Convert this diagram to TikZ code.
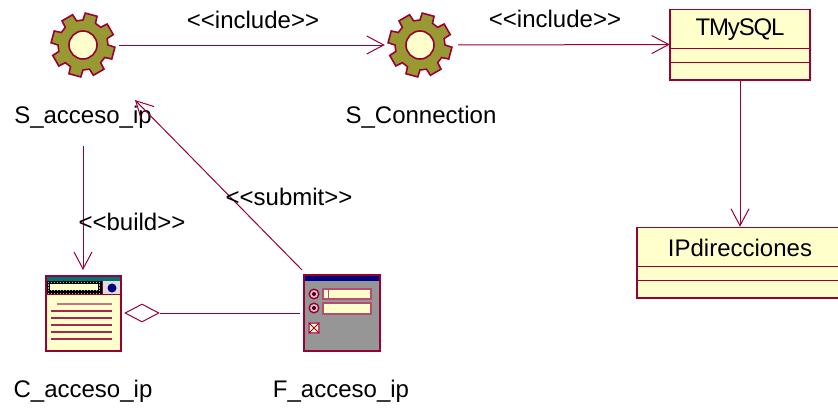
\documentclass[tikz,border=0pt]{standalone}
\usepackage{fontspec}
\setmainfont[Ligatures=NoCommon]{Liberation Sans}
\usetikzlibrary{arrows.meta,shapes.geometric}
\definecolor{rose}{HTML}{990033}
\definecolor{cream}{HTML}{FFFFCC}
\definecolor{olive}{HTML}{999933}
\definecolor{tealbar}{HTML}{007575}
\definecolor{navybar}{HTML}{000080}
\definecolor{formgrey}{HTML}{969696}
\tikzset{
  every node/.style={font=\fontsize{24}{26}\selectfont,text=black,inner sep=0pt},
  link/.style={draw=rose,line width=1pt},
  dep/.style={link,-{Straight Barb[length=17pt,width=18pt,line width=1pt]}},
  box/.style={draw=none,fill=cream,inner sep=0pt,minimum width=#1},
  anchorbox/.style={inner sep=0pt,minimum width=#1,minimum height=#1},
  rl/.style={draw=rose,line width=1pt},
  rb/.style={draw=rose,line width=1.7pt},
  gearline/.style={draw=rose,line width=1.6pt,line join=miter},
  rowline/.style={draw=rose!85!white,line width=1.2pt},
  fieldbox/.style={draw=rose!70!white,fill=cream,line width=1.4pt}
}
\newcommand{\gearat}[2]{%
  \begin{scope}[shift={(#1,#2)}]
    \draw[gearline,fill=olive] (15-15:25)
      \foreach \k in {0,...,7}{
        -- ({\k*45+15-15}:25) -- ({\k*45+15-11}:32) -- ({\k*45+15+11}:32) -- ({\k*45+15+15}:25)
      } -- cycle;
    \draw[gearline,fill=cream] (0,0) circle (14);
  \end{scope}}
\begin{document}
\begin{tikzpicture}[x=1pt,y=-1pt]
\useasboundingbox (0,0) rectangle (838,408);

% anchor nodes of the icons
\node[anchorbox=72] (sa) at (83,45) {};
\node[anchorbox=70] (sc) at (420,45) {};
\node[anchorbox=76] (ca) at (83.5,313.5) {};
\node[anchorbox=76] (fa) at (342,313) {};

% gears
\gearat{83}{45}
\gearat{420}{45}

% labels
\node (lsa) at (83,117) {S\_acceso\_ip};
\node (lsc) at (421,117) {S\_Connection};
\node (lca) at (83,391) {C\_acceso\_ip};
\node (lfa) at (341,391) {F\_acceso\_ip};

% classes
\node[box=140,minimum height=71] (tm) at (740,44.5) {};
\draw[rl] (670,9) -- (810,9);
\draw[rb] (670,9) -- (670,80) -- (810,80) -- (810,9);
\draw[rl] (670,48) -- (810,48) (670,62) -- (810,62);
\node (ltm) at (740,30) {\addfontfeature{LetterSpace=-5}TMySQL};

\node[box=201,minimum height=71] (ip) at (737.5,262.5) {};
\draw[rl] (637,227) -- (838,227);
\draw[rb] (637,227) -- (637,298) -- (838,298);
\draw[rl] (637,266) -- (838,266) (637,280) -- (838,280);
\node (lip) at (740,247.5) {IPdirecciones};

% client page icon
\fill[cream] (46,276) rectangle (121,351);
\fill[tealbar] (47,277) rectangle (120,281);
\fill[black] (47,281) rectangle (102,294);
\foreach \i in {0,...,18}{
  \foreach \j in {0,...,4}{
    \fill[white!70!black] ({47.5+\i*3},{281.5+\j*2.8}) rectangle ++(1.5,1.4);
  }
}
\fill[cream] (50,284) rectangle (98,290);
\fill[white!87!black] (102,281) rectangle (120,294);
\fill[navybar] (112,288) circle (4.5);
\draw[rb] (46,276) rectangle (121,351);
\draw[rb,line width=1pt] (102,281) -- (102,294) (47,294) -- (120,294);
\draw[rowline,rose!55!white] (57,304) -- (112,304);
\foreach \yy in {311,318,325,332,339}{
  \draw[rowline] (51,\yy) -- (112,\yy);
}

% form icon
\fill[formgrey] (304,275) rectangle (380,351);
\fill[navybar] (304,275) rectangle (380,281);
\draw[rb] (304,275) rectangle (380,351);
\draw[fieldbox] (323,289) rectangle (371,299);
\draw[rose!70!white,line width=1pt] (328,289) -- (328,299);
\draw[fieldbox] (323,303) rectangle (371,314);
\foreach \yy in {294,308}{
  \draw[draw=rose,fill=white!75!rose,line width=1.4pt] (314,\yy) circle (4.8);
  \fill[black!60!rose] (314,\yy) circle (2);
}
\draw[fieldbox] (309,323) rectangle (319,333);
\draw[rose,line width=1pt] (309,323) -- (319,333) (319,323) -- (309,333);

% aggregation diamond
\node[diamond,draw=rose,fill=white,line width=1pt,inner sep=0pt,minimum width=34pt,minimum height=18pt] (dm) at (142,313) {};

% connector ends
\coordinate (saout) at (83,146);
\coordinate (cain) at (83,270);
\coordinate (faout) at (302,270);
\coordinate (sain) at (135,100);

% connectors
\draw[dep] (sa.east) -- (sc.west);
\draw[dep,shorten <=3pt] (sc.east) -- (tm.west);
\draw[dep] (tm.south) -- (ip.north -| tm.south);
\draw[dep] (saout) -- (cain);
\draw[dep] (faout) -- (sain);
\draw[link,shorten <=4pt] (fa.west) -- (dm.east);

% connector labels
\node (l1) at (253,20) {<{}<include>{}>};
\node (l2) at (555,19) {<{}<include>{}>};
\node (l3) at (132,222) {<{}<build>{}>};
\node (l4) at (289,197) {<{}<submit>{}>};
\end{tikzpicture}
\end{document}
